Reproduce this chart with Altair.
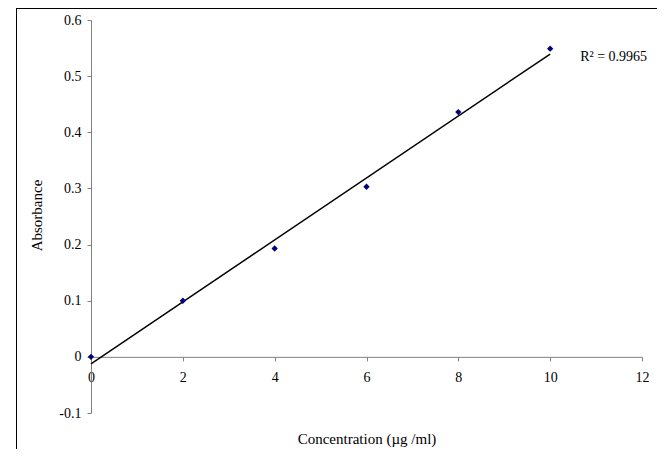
import altair as alt
import pandas as pd

concentration = [0, 2, 4, 6, 8, 10]
absorbance = [0.0, 0.100, 0.193, 0.303, 0.436, 0.549]
x_ticks = [0, 2, 4, 6, 8, 10, 12]
y_ticks = [-0.1, 0.0, 0.1, 0.2, 0.3, 0.4, 0.5, 0.6]
r2_label = ["R\u00b2 = 0.9965"]

df = pd.DataFrame({"conc": concentration, "abs": absorbance})

FONT = "Liberation Serif"
W, H = 551, 393
y_min, y_max = -0.1, 0.6
x_axis_offset = -H * (0 - y_min) / (y_max - y_min)

xscale = alt.Scale(domain=[0, 12], nice=False, zero=False)
yscale = alt.Scale(domain=[y_min, y_max], nice=False, zero=False)

x_enc = alt.X(
    "conc:Q",
    scale=xscale,
    axis=alt.Axis(
        values=x_ticks,
        title="Concentration (\u00b5g /ml)",
        offset=x_axis_offset,
        grid=False,
        domainColor="#808080",
        tickColor="#808080",
        tickSize=4,
        labelPadding=10,
        labelFont=FONT,
        labelFontSize=14,
        labelColor="black",
        titleFont=FONT,
        titleFontSize=15,
        titleFontWeight="normal",
        titleColor="black",
        titleY=87,
        titleBaseline="alphabetic",
        labelFlush=False,
    ),
)
y_enc = alt.Y(
    "abs:Q",
    scale=yscale,
    axis=alt.Axis(
        values=y_ticks,
        title="Absorbance",
        grid=False,
        domainColor="#808080",
        tickColor="#808080",
        tickSize=4,
        labelPadding=6,
        labelFont=FONT,
        labelFontSize=14,
        labelColor="black",
        labelExpr="datum.value == 0 ? '0' : replace(format(datum.value, '.1f'), '\u2212', '-')",
        titleFont=FONT,
        titleFontSize=15,
        titleFontWeight="normal",
        titleColor="black",
        titleX=-50,
        titleY=195,
        titleAngle=270,
        titleAlign="center",
        titleBaseline="alphabetic",
        labelFlush=False,
    ),
)

base = alt.Chart(df)

points = base.mark_point(shape="diamond", filled=True, color="#000080", size=40, opacity=1).encode(
    x=x_enc, y=y_enc
)

trend = base.transform_regression("conc", "abs").mark_line(color="black", strokeWidth=1.5).encode(
    x="conc:Q", y="abs:Q"
)

r2 = (
    base.transform_joinaggregate(maxc="max(conc)")
    .transform_filter("datum.conc == datum.maxc")
    .mark_text(align="left", baseline="middle", dx=30, dy=8, font=FONT, fontSize=14, color="black",
               text=r2_label[0])
    .encode(x="conc:Q", y="abs:Q")
)

frame_top = base.mark_rule(color="black", strokeWidth=1).encode(
    x=alt.value(-74.5), x2=alt.value(W + 15), y=alt.value(-11.5)
)
frame_left = base.mark_rule(color="black", strokeWidth=1).encode(
    x=alt.value(-74.5), y=alt.value(-11.5), y2=alt.value(H + 36)
)

chart = (
    alt.layer(frame_top, frame_left, trend, points, r2)
    .properties(
        width=W,
        height=H,
        autosize=alt.AutoSizeParams(type="none"),
        padding={"left": 83, "top": 12, "right": 15, "bottom": 36},
        background="white",
    )
    .configure_view(stroke=None)
)

chart.save("out.html", embed_options={"renderer": "svg", "actions": False})
